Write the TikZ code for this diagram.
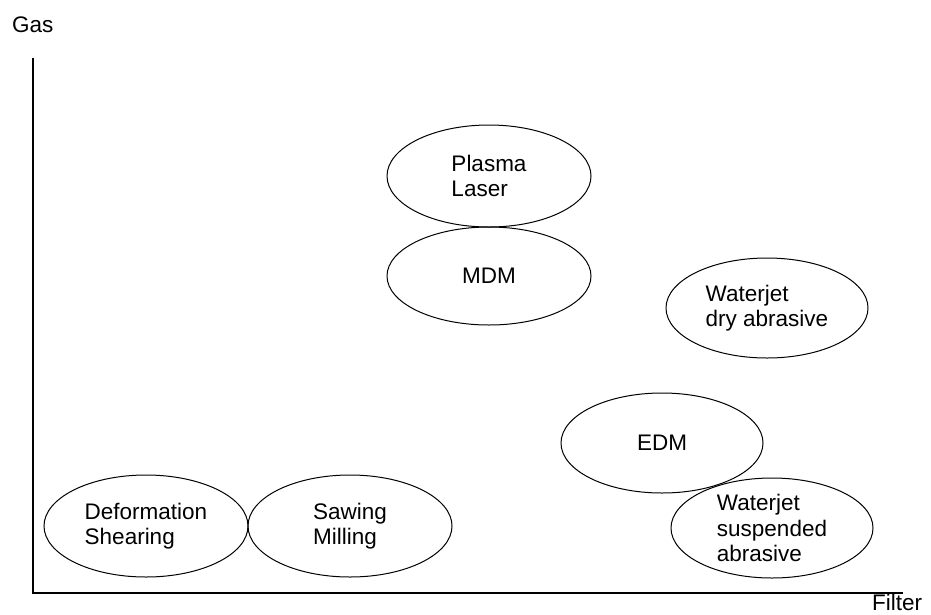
\documentclass[tikz,border=0pt]{standalone}
\usepackage{fontspec}
\setmainfont{Liberation Sans}
\usetikzlibrary{shapes.geometric}
\begin{document}
\begin{tikzpicture}[x=1pt,y=-1pt,
  blob/.style={draw=black,line width=1pt,ellipse,inner sep=0pt,minimum width=204pt,minimum height=100pt},
  lbl/.style={font=\fontsize{22.5}{25.5}\selectfont,align=left,inner sep=0pt},
  axis/.style={draw=black,line width=1.3pt}]
\useasboundingbox (0,0) rectangle (931,614);
\coordinate (ytop) at (33,58);
\coordinate (orig) at (33,593);
\coordinate (xend) at (903,593);
\draw[axis] (ytop) -- (orig) -- (xend);
\node[lbl,anchor=base west] (gas) at (12,32) {Gas};
\node[lbl,anchor=base west] (filter) at (872,610) {Filter};
\node[blob,minimum height=102pt,label={[lbl]center:{Plasma\\Laser}}] (plasma) at (489,176) {};
\node[blob,minimum height=98pt,label={[lbl]center:{MDM}}] (mdm) at (489,276) {};
\node[blob,minimum width=202pt,label={[lbl]center:{Waterjet\\dry abrasive}}] (wdry) at (767,308) {};
\node[blob,minimum width=202pt,label={[lbl]center:{EDM}}] (edm) at (662,443) {};
\node[blob,minimum width=202pt,label={[lbl]center:{Waterjet\\suspended\\abrasive}}] (wsus) at (772,528) {};
\node[blob,minimum height=102pt,label={[lbl]center:{Deformation\\Shearing}}] (def) at (146,526) {};
\node[blob,minimum height=102pt,label={[lbl]center:{Sawing\\Milling}}] (saw) at (350,526) {};
\end{tikzpicture}
\end{document}
